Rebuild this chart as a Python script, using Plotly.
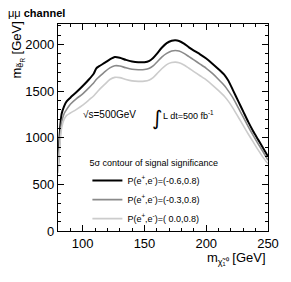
import plotly.graph_objects as go

# neutralino mass [GeV]
m_chi = [80, 81, 82, 83, 85, 87, 90, 95, 100, 105, 109, 111, 113, 118, 122, 126, 130, 135, 140, 145,
         150, 154, 157, 160, 164, 168, 172, 175, 178, 182, 186, 190, 195, 200, 205, 210, 215, 218,
         222, 226, 230, 234, 238, 242, 246, 250]

# 5 sigma contour, selectron mass [GeV]
m_sel_m06 = [700, 950, 1150, 1260, 1340, 1390, 1430, 1490, 1555, 1625, 1690, 1745, 1765, 1805, 1840,
             1866, 1858, 1835, 1818, 1810, 1810, 1825, 1855, 1900, 1965, 2015, 2040, 2045, 2038,
             2010, 1970, 1935, 1895, 1850, 1795, 1735, 1670, 1610, 1500, 1390, 1280, 1170, 1070,
             980, 890, 800]
m_sel_m03 = [650, 880, 1060, 1170, 1260, 1305, 1360, 1420, 1470, 1535, 1590, 1625, 1650, 1710, 1750,
             1772, 1770, 1750, 1735, 1730, 1732, 1745, 1770, 1810, 1865, 1905, 1930, 1936, 1930,
             1905, 1870, 1835, 1790, 1745, 1690, 1625, 1555, 1500, 1420, 1320, 1220, 1120, 1025,
             935, 850, 760]
m_sel_00 = [620, 830, 1000, 1110, 1200, 1240, 1265, 1305, 1350, 1405, 1450, 1480, 1510, 1575, 1625,
            1648, 1645, 1625, 1610, 1605, 1607, 1620, 1645, 1685, 1740, 1785, 1806, 1811, 1805,
            1780, 1745, 1710, 1665, 1620, 1565, 1505, 1440, 1390, 1310, 1220, 1130, 1040, 955,
            870, 790, 720]

series_names = ["P(e<sup>+</sup>,e<sup>-</sup>)=(-0.6,0.8)",
                "P(e<sup>+</sup>,e<sup>-</sup>)=(-0.3,0.8)",
                "P(e<sup>+</sup>,e<sup>-</sup>)=( 0.0,0.8)"]
series_vals = [m_sel_m06, m_sel_m03, m_sel_00]
series_colors = ["#000000", "#8a8a8a", "#cccccc"]
series_widths = [2.0, 1.6, 1.6]

FONT = "Liberation Sans, Arial, Helvetica, sans-serif"

fig = go.Figure()
for name, vals, col, w in zip(series_names, series_vals, series_colors, series_widths):
    fig.add_trace(go.Scatter(x=m_chi, y=vals, mode="lines", name=name,
                             line=dict(color=col, width=w, shape="spline", smoothing=0.6)))

axis_common = dict(showgrid=False, zeroline=False, showline=True, linecolor="black", linewidth=1.3,
                   mirror="allticks", ticks="inside", ticklen=6, tickwidth=1, tickcolor="black",
                   automargin=False,
                   tickfont=dict(family=FONT, size=13, color="black"))

fig.update_xaxes(range=[80, 250], tickvals=[100, 150, 200, 250], ticktext=["100", "150", "200", "250"],
                 minor=dict(dtick=10, tick0=80, ticks="inside", ticklen=3, tickcolor="black"),
                 **axis_common)
fig.update_yaxes(range=[0, 2220], tickvals=[0, 500, 1000, 1500, 2000],
                 ticktext=["0", "500", "1000", "1500", "2000"],
                 minor=dict(dtick=100, tick0=0, ticks="inside", ticklen=3, tickcolor="black"),
                 **axis_common)

fig.update_layout(
    width=283, height=274,
    margin=dict(l=50, r=23, t=16, b=51, pad=0),
    paper_bgcolor="white", plot_bgcolor="white",
    font=dict(family=FONT, color="black"),
    showlegend=True,
    legend=dict(x=0.14, y=0.37, xanchor="left", yanchor="top", bgcolor="rgba(0,0,0,0)",
                font=dict(family=FONT, size=9), itemwidth=30, tracegroupgap=0,
                title=dict(text="5σ contour of signal significance", font=dict(family=FONT, size=9))),
    annotations=[
        dict(text="μμ <b>channel</b>", x=0, y=1, xref="paper", yref="paper", xshift=-52, yshift=11,
             xanchor="left", yanchor="middle", showarrow=False, font=dict(family=FONT, size=11)),
        dict(text="m<sub>ẽ<sub>R</sub></sub> [GeV]", x=0, y=1, xref="paper", yref="paper",
             xshift=-41, yshift=4, xanchor="center", yanchor="top", textangle=-90, showarrow=False,
             font=dict(family=FONT, size=13)),
        dict(text="m<sub>χ̃₁⁰</sub> [GeV]", x=1, y=0, xref="paper", yref="paper", yshift=-27,
             xanchor="right", yanchor="middle", showarrow=False, font=dict(family=FONT, size=13)),
        dict(text="√s=500GeV", x=99, y=1245, xref="x", yref="y", xanchor="left", yanchor="middle",
             showarrow=False, font=dict(family=FONT, size=10)),
        dict(text="∫", x=160.5, y=1212, xref="x", yref="y", xanchor="center", yanchor="middle",
             showarrow=False, font=dict(family="DejaVu Sans, sans-serif", size=20)),
        dict(text="L dt=500 fb<sup>-1</sup>", x=163.5, y=1245, xref="x", yref="y", xanchor="left",
             yanchor="middle", showarrow=False, font=dict(family=FONT, size=9)),
    ],
)

fig.write_html("out.html")
